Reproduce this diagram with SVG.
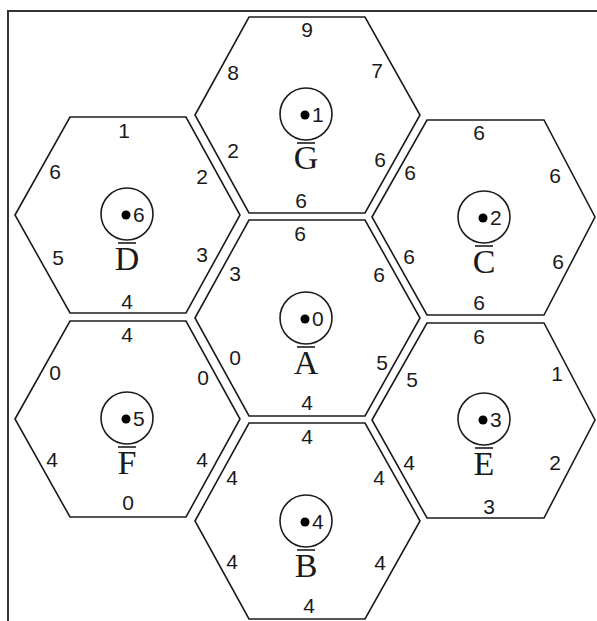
<svg xmlns="http://www.w3.org/2000/svg" width="597" height="621" viewBox="0 0 597 621">
<style>
.hex{fill:none;stroke:#1c1c1c;stroke-width:1.6;stroke-linejoin:miter}
.ring{fill:none;stroke:#1c1c1c;stroke-width:1.6}
.tick{stroke:#1c1c1c;stroke-width:1.6}
.dot{fill:#000}
.n{font-family:"Liberation Sans",Arial,sans-serif;font-size:21px;fill:#1a1a1a;text-anchor:middle}
.id{font-family:"Liberation Sans",Arial,sans-serif;font-size:21px;fill:#1a1a1a;text-anchor:start}
.L{font-family:"Liberation Serif","Times New Roman",serif;font-size:34px;fill:#1a1a1a;text-anchor:middle}
.frame{fill:none;stroke:#333;stroke-width:2}
</style>
<rect width="597" height="621" fill="#fff"/>
<g id="frame"><path class="frame" d="M8,621 V11 H597"/></g>

<g id="G">
<polygon class="hex" points="195,115 249,17 365,17 420,115 365,213 249,213"/>
<circle class="ring" cx="306" cy="114" r="26"/><line class="tick" x1="297" y1="143" x2="315" y2="143"/>
<circle class="dot" cx="305" cy="115" r="4.5"/><text class="id" x="312" y="122">1</text>
<text class="L" x="306" y="169">G</text>
<text class="n" x="307" y="37">9</text><text class="n" x="233" y="80">8</text><text class="n" x="377" y="78">7</text>
<text class="n" x="233" y="158">2</text><text class="n" x="380" y="167">6</text><text class="n" x="301" y="208">6</text>
</g>

<g id="D">
<polygon class="hex" points="15,215 70,117 186,117 240,215 186,313 70,313"/>
<circle class="ring" cx="127" cy="214" r="26"/><line class="tick" x1="118" y1="243" x2="136" y2="243"/>
<circle class="dot" cx="126" cy="215" r="4.5"/><text class="id" x="133" y="222">6</text>
<text class="L" x="127" y="270">D</text>
<text class="n" x="124" y="138">1</text><text class="n" x="55" y="179">6</text><text class="n" x="202" y="184">2</text>
<text class="n" x="58" y="265">5</text><text class="n" x="202" y="262">3</text><text class="n" x="127" y="309">4</text>
</g>

<g id="C">
<polygon class="hex" points="372,217 427,120 544,120 595,217 544,315 427,315"/>
<circle class="ring" cx="484" cy="217" r="26"/><line class="tick" x1="475" y1="246" x2="493" y2="246"/>
<circle class="dot" cx="483" cy="218" r="4.5"/><text class="id" x="490" y="225">2</text>
<text class="L" x="484" y="273">C</text>
<text class="n" x="479" y="140">6</text><text class="n" x="410" y="180">6</text><text class="n" x="555" y="183">6</text>
<text class="n" x="409" y="264">6</text><text class="n" x="558" y="269">6</text><text class="n" x="479" y="310">6</text>
</g>

<g id="A">
<polygon class="hex" points="195,318 249,220 365,220 420,318 365,416 249,416"/>
<circle class="ring" cx="306" cy="318" r="26"/><line class="tick" x1="297" y1="347" x2="315" y2="347"/>
<circle class="dot" cx="305" cy="319" r="4.5"/><text class="id" x="312" y="326">0</text>
<text class="L" x="306" y="374">A</text>
<text class="n" x="300" y="241">6</text><text class="n" x="235" y="281">3</text><text class="n" x="379" y="282">6</text>
<text class="n" x="235" y="365">0</text><text class="n" x="382" y="370">5</text><text class="n" x="307" y="410">4</text>
</g>

<g id="F">
<polygon class="hex" points="15,419 70,321 186,321 240,419 186,517 70,517"/>
<circle class="ring" cx="127" cy="418" r="26"/><line class="tick" x1="118" y1="447" x2="136" y2="447"/>
<circle class="dot" cx="126" cy="419" r="4.5"/><text class="id" x="133" y="426">5</text>
<text class="L" x="127" y="474">F</text>
<text class="n" x="127" y="342">4</text><text class="n" x="55" y="380">0</text><text class="n" x="203" y="385">0</text>
<text class="n" x="52" y="467">4</text><text class="n" x="202" y="467">4</text><text class="n" x="128" y="510">0</text>
</g>

<g id="E">
<polygon class="hex" points="372,420 427,323 544,323 595,420 544,518 427,518"/>
<circle class="ring" cx="484" cy="419" r="26"/><line class="tick" x1="475" y1="448" x2="493" y2="448"/>
<circle class="dot" cx="483" cy="420" r="4.5"/><text class="id" x="490" y="427">3</text>
<text class="L" x="484" y="475">E</text>
<text class="n" x="479" y="344">6</text><text class="n" x="412" y="387">5</text><text class="n" x="557" y="381">1</text>
<text class="n" x="409" y="470">4</text><text class="n" x="555" y="470">2</text><text class="n" x="489" y="514">3</text>
</g>

<g id="B">
<polygon class="hex" points="195,521 249,423 365,423 420,521 365,619 249,619"/>
<circle class="ring" cx="306" cy="521" r="26"/><line class="tick" x1="297" y1="550" x2="315" y2="550"/>
<circle class="dot" cx="305" cy="522" r="4.5"/><text class="id" x="312" y="529">4</text>
<text class="L" x="306" y="577">B</text>
<text class="n" x="307" y="444">4</text><text class="n" x="232" y="485">4</text><text class="n" x="379" y="485">4</text>
<text class="n" x="232" y="569">4</text><text class="n" x="380" y="570">4</text><text class="n" x="309" y="613">4</text>
</g>
</svg>
